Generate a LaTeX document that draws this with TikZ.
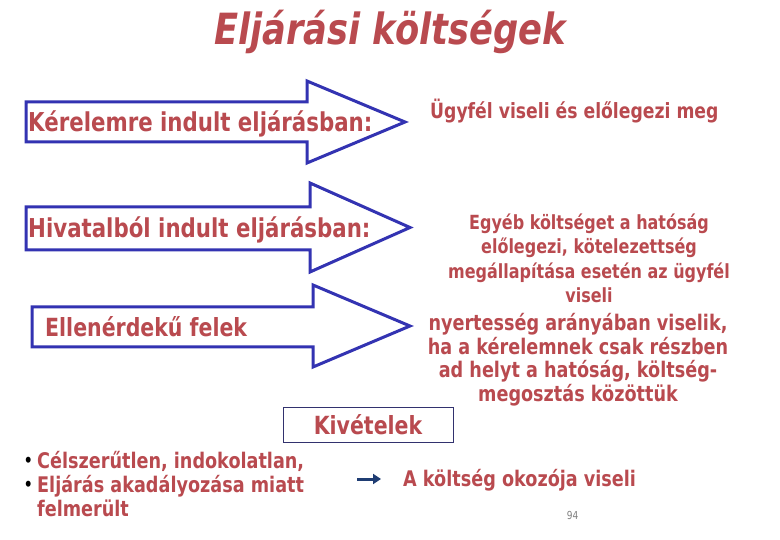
\documentclass[tikz,border=0pt]{standalone}
\usepackage{fontspec}
\setmainfont{DejaVu Sans}[FakeStretch=0.82]
\usetikzlibrary{arrows.meta}

\definecolor{costred}{RGB}{185,74,79}
\definecolor{arrowblue}{RGB}{51,51,178}
\definecolor{boxnavy}{RGB}{50,50,110}
\definecolor{smallblue}{RGB}{31,61,115}

\newcommand{\fsz}[2]{\bfseries\fontsize{#1}{#2}\selectfont}
\newcommand{\bul}{\llap{\raisebox{2pt}{\textcolor{black}{\fontsize{17}{17}\selectfont •}}\hspace{4.5pt}}}

\begin{document}
\begin{tikzpicture}[x=1pt, y=-1pt,
    txt/.style={text=costred, inner sep=0pt},
    bigarrow/.style={draw=arrowblue, line width=3pt, line join=miter, fill=white}]

  \useasboundingbox (0,0) rectangle (780,540);
  \fill[white] (0,0) rectangle (780,540);

  % title
  \node[txt, anchor=base, font=\bfseries\itshape\fontsize{43}{43}\selectfont] (title) at (390,45) {Eljárási költségek};

  % loops over the 3 big arrows: left/top/bottom/head/head top/head bottom/tip
  \foreach \l/\t/\b/\h/\ht/\hb/\tip in {26/102/142/307/81/163/405, 26/207/250/310/183/272/410, 32/307/347/313/285/367/410}{
    \draw[bigarrow] (\l,\t) -- (\h,\t) -- (\h,\ht) -- (\tip,{(\ht+\hb)/2})
      -- (\h,\hb) -- (\h,\b) -- (\l,\b) -- cycle;
  }

  \node[txt, anchor=base west, font=\fsz{26}{30}] (request) at (28,132) {Kérelemre indult eljárásban:};
  \node[txt, anchor=base west, font=\fsz{26}{30}] (office) at (28,238) {Hivatalból indult eljárásban:};
  \node[txt, anchor=base west, font=\fsz{25}{30}] (opposed) at (45,337) {Ellenérdekű felek};

  % right hand texts
  \node[txt, anchor=base west, font=\fsz{21}{25}] (client) at (430,119) {Ügyfél viseli és előlegezi meg};
  \node[txt, anchor=north, align=center, font=\fsz{19.5}{24.2}] (other) at (589,214)
    {Egyéb költséget a hatóság\\előlegezi, kötelezettség\\megállapítása esetén az ügyfél\\viseli};
  \node[txt, anchor=north, align=center, font=\fsz{21.5}{23.8}] (share) at (578,313)
    {nyertesség arányában viselik,\\ha a kérelemnek csak részben\\ad helyt a hatóság, költség-\\megosztás közöttük};

  % exceptions
  \node[txt, draw=boxnavy, line width=1pt, minimum width=170pt, minimum height=35pt, font=\fsz{25}{30}] (except) at (368,424.5) {Kivételek};
  \node[txt, anchor=north west, align=left, font=\fsz{21.5}{24}] (causes) at (37,451)
    {\bul Célszerűtlen, indokolatlan,\\\bul Eljárás akadályozása miatt\\felmerült};

  \coordinate (from) at (357,479);
  \coordinate (to) at (381,479);
  \draw[-{Triangle[length=8pt,width=10pt]}, line width=3pt, smallblue] (from) -- (to);
  \node[txt, anchor=base west, font=\fsz{21.5}{24}] (culprit) at (403,486) {A költség okozója viseli};

  \node[anchor=base, text=gray, inner sep=0pt, font=\fontsize{11}{11}\selectfont] (page) at (572.5,519) {94};
\end{tikzpicture}
\end{document}
